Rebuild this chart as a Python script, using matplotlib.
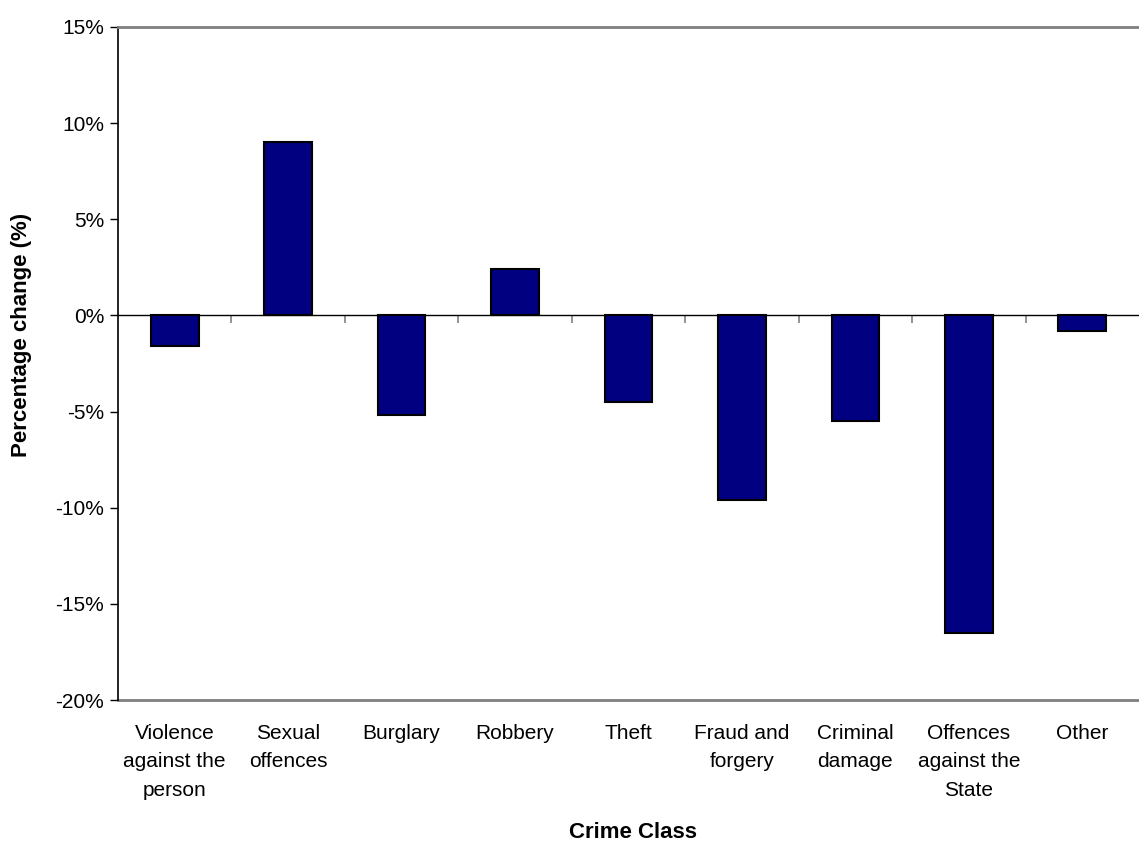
import matplotlib
matplotlib.use("Agg")
import matplotlib.pyplot as plt
from matplotlib.ticker import FuncFormatter

plt.rcParams['font.family'] = ['Liberation Sans', 'DejaVu Sans']

# crime classes and % change
crime_classes = ["Violence\nagainst the\nperson", "Sexual\noffences", "Burglary", "Robbery",
                 "Theft", "Fraud and\nforgery", "Criminal\ndamage",
                 "Offences\nagainst the\nState", "Other"]
pct_change = [-1.6, 9.0, -5.2, 2.4, -4.5, -9.6, -5.5, -16.5, -0.8]
y_ticks = [-20, -15, -10, -5, 0, 5, 10, 15]

fig = plt.figure(figsize=(11.39, 8.43), dpi=100)
ax = fig.add_axes([118/1139, 1 - 700/843, 1 - 118/1139, (700 - 27)/843])

x = list(range(len(crime_classes)))
ax.bar(x, pct_change, width=0.42, color='#000080', edgecolor='black', linewidth=1.5, zorder=3)

ax.set_xlim(-0.5, len(crime_classes) - 0.5)
ax.set_ylim(-20, 15)
ax.set_yticks(y_ticks)
ax.yaxis.set_major_formatter(FuncFormatter(lambda v, p: "%d%%" % v))
ax.tick_params(axis='y', direction='out', length=6, width=1, labelsize=15, pad=4)

# zero line with the category boundary ticks
ax.spines['bottom'].set_position(('data', 0))
ax.spines['bottom'].set_color('black')
ax.spines['bottom'].set_linewidth(1)
ax.set_xticks([i + 0.5 for i in range(len(crime_classes) - 1)])
ax.tick_params(axis='x', direction='out', length=6, width=1.2, color='#808080', labelbottom=False)

ax.spines['left'].set_color('black')
ax.spines['left'].set_linewidth(1.2)
ax.spines['top'].set_color('#808080')
ax.spines['top'].set_linewidth(2)
ax.spines['right'].set_visible(False)

# category labels on the bottom (-20%) line
sec = ax.secondary_xaxis(0)
sec.set_xticks(x)
sec.set_xticklabels(crime_classes, fontsize=15, linespacing=1.65)
sec.tick_params(length=0, pad=17)
sec.spines['bottom'].set_color('#808080')
sec.spines['bottom'].set_linewidth(2)

fig.text(633/1139, 1 - 833/843, "Crime Class", fontsize=16, fontweight='bold', ha='center', va='center')
fig.text(22/1139, 1 - 335/843, "Percentage change (%)", fontsize=16, fontweight='bold',
         rotation=90, ha='center', va='center')

fig.savefig("out.png", dpi=100)
